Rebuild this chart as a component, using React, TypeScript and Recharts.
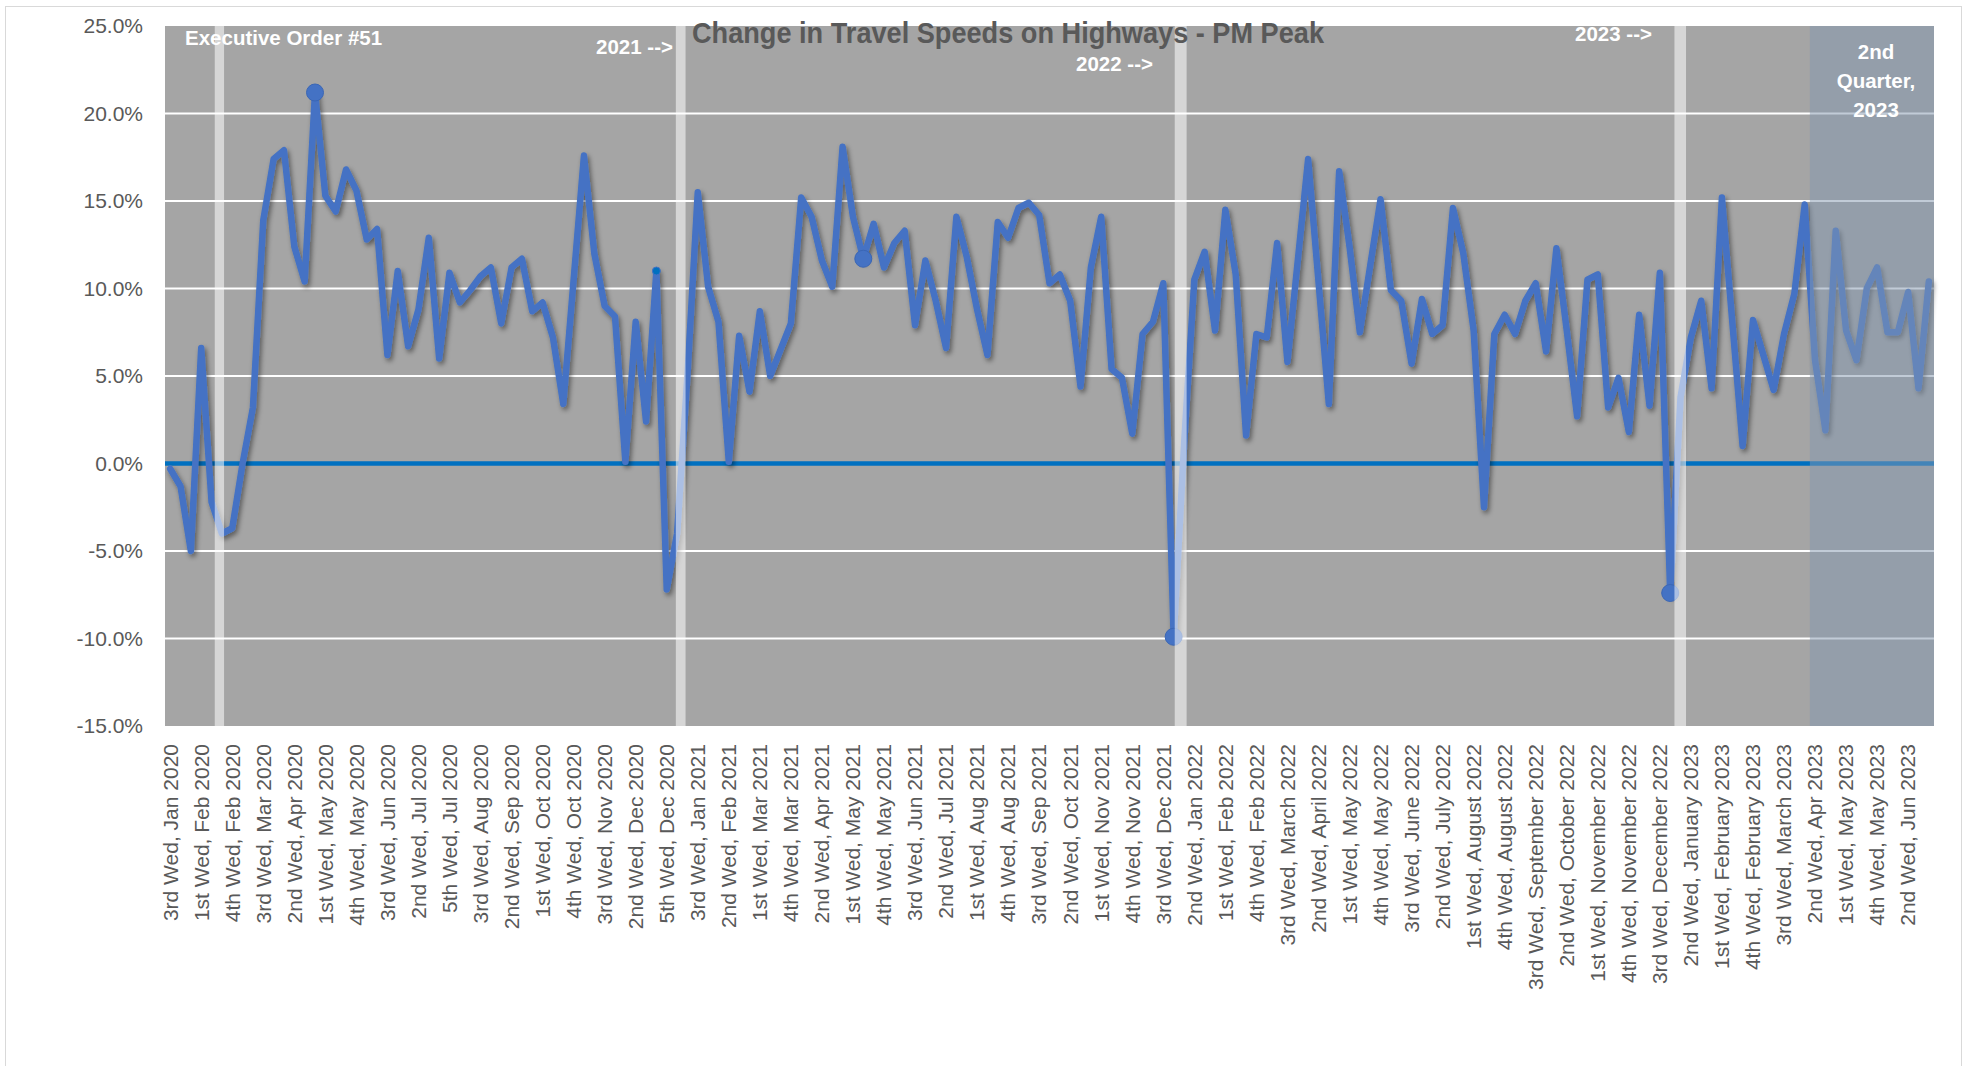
import React from "react";
import {
  LineChart,
  Line,
  XAxis,
  YAxis,
  CartesianGrid,
  ReferenceLine,
  ReferenceArea,
} from "recharts";

// every 3rd week gets a label on the axis
const WEEK_LABELS = [
  "3rd Wed, Jan 2020", "1st Wed, Feb 2020", "4th Wed, Feb 2020", "3rd Wed, Mar 2020",
  "2nd Wed, Apr 2020", "1st Wed, May 2020", "4th Wed, May 2020", "3rd Wed, Jun 2020",
  "2nd Wed, Jul 2020", "5th Wed, Jul 2020", "3rd Wed, Aug 2020", "2nd Wed, Sep 2020",
  "1st Wed, Oct 2020", "4th Wed, Oct 2020", "3rd Wed, Nov 2020", "2nd Wed, Dec 2020",
  "5th Wed, Dec 2020",
  "3rd Wed, Jan 2021", "2nd Wed, Feb 2021", "1st Wed, Mar 2021", "4th Wed, Mar 2021",
  "2nd Wed, Apr 2021", "1st Wed, May 2021", "4th Wed, May 2021", "3rd Wed, Jun 2021",
  "2nd Wed, Jul 2021", "1st Wed, Aug 2021", "4th Wed, Aug 2021", "3rd Wed, Sep 2021",
  "2nd Wed, Oct 2021", "1st Wed, Nov 2021", "4th Wed, Nov 2021", "3rd Wed, Dec 2021",
  "2nd Wed, Jan 2022", "1st Wed, Feb 2022", "4th Wed, Feb 2022", "3rd Wed, March 2022",
  "2nd Wed, April 2022", "1st Wed, May 2022", "4th Wed, May 2022", "3rd Wed, June 2022",
  "2nd Wed, July 2022", "1st Wed, August 2022", "4th Wed, August 2022",
  "3rd Wed, September 2022", "2nd Wed, October 2022", "1st Wed, November 2022",
  "4th Wed, November 2022", "3rd Wed, December 2022",
  "2nd Wed, January 2023", "1st Wed, February 2023", "4th Wed, February 2023",
  "3rd Wed, March 2023", "2nd Wed, Apr 2023", "1st Wed, May 2023", "4th Wed, May 2023",
  "2nd Wed, Jun 2023",
];

// weekly % change in PM peak speed
const SPEED_CHANGE = [
  -0.3, -1.3, -5.0, 6.6, -2.2, -4.0, -3.7, 0.0, 3.2, 13.9,
  17.4, 17.9, 12.4, 10.4, 21.2, 15.3, 14.4, 16.8, 15.6, 12.8,
  13.4, 6.2, 11.0, 6.7, 8.8, 12.9, 6.0, 10.9, 9.2, 9.9,
  10.7, 11.2, 8.0, 11.2, 11.7, 8.7, 9.2, 7.2, 3.4, 10.5,
  17.6, 12.0, 9.0, 8.4, 0.1, 8.1, 2.4, 11.0, -7.2, -4.0,
  5.0, 15.5, 10.1, 8.1, 0.1, 7.3, 4.1, 8.7, 5.0, 6.5,
  8.0, 15.2, 14.1, 11.6, 10.1, 18.1, 14.1, 11.7, 13.7, 11.2,
  12.6, 13.3, 7.9, 11.6, 9.3, 6.6, 14.1, 11.8, 8.8, 6.2,
  13.8, 12.9, 14.6, 14.9, 14.2, 10.3, 10.8, 9.3, 4.4, 11.2,
  14.1, 5.4, 4.9, 1.7, 7.4, 8.1, 10.3, -9.9, 1.0, 10.5,
  12.1, 7.6, 14.5, 10.8, 1.6, 7.4, 7.2, 12.6, 5.8, 11.6,
  17.4, 10.4, 3.4, 16.7, 12.4, 7.5, 11.3, 15.1, 9.9, 9.3,
  5.7, 9.4, 7.4, 7.9, 14.6, 12.0, 7.6, -2.5, 7.4, 8.5,
  7.4, 9.3, 10.3, 6.4, 12.3, 7.6, 2.7, 10.5, 10.8, 3.2,
  4.9, 1.8, 8.5, 3.3, 10.9, -7.4, 3.8, 7.2, 9.3, 4.3,
  15.2, 8.1, 1.0, 8.2, 6.2, 4.2, 7.4, 9.7, 14.8, 5.9,
  1.9, 13.3, 7.6, 5.9, 10.0, 11.2, 7.5, 7.5, 9.8, 4.3,
  10.4,
];

const Y_TICKS = [-15, -10, -5, 0, 5, 10, 15, 20, 25];
const BIG_MARKERS = [14, 67, 97, 145];
const SMALL_MARKERS = [47];

// light dividers (Executive Order, 2021, 2022, 2023) as [centre, width] in weeks
const DIVIDERS = [
  [4.76, 0.9],
  [49.35, 0.94],
  [97.68, 1.15],
  [145.97, 1.12],
];
const Q2_START = 158.5;

const FONT = "'Liberation Sans', Arial, sans-serif";
const W = 1963;
const H = 1066;

const rows = SPEED_CHANGE.map((v, i) => ({ i, v }));
const tickIdx = WEEK_LABELS.map((_, k) => k * 3);

function XTick({ x, y, payload }: any) {
  const label = WEEK_LABELS[Math.round(payload.value / 3)];
  return (
    <text
      x={x}
      y={y}
      transform={`rotate(-90 ${x} ${y})`}
      textAnchor="end"
      dy="0.35em"
      fontSize={21}
      fontFamily={FONT}
      fill="#595959"
    >
      {label}
    </text>
  );
}

function Dot(props: any) {
  const { cx, cy, index } = props;
  if (BIG_MARKERS.includes(index)) {
    return <circle key={index} cx={cx} cy={cy} r={8.5} fill="#4472C4" stroke="#3A66B5" strokeWidth={1} />;
  }
  if (SMALL_MARKERS.includes(index)) {
    return <circle key={index} cx={cx} cy={cy} r={4} fill="#0070C0" stroke="#4472C4" strokeWidth={1} />;
  }
  return <g key={index} />;
}

export default function App() {
  const white = { fill: "#FFFFFF", fontFamily: FONT, fontWeight: 700, fontSize: 20.5 };
  return (
    <div style={{ position: "absolute", left: 0, top: 0, width: W, height: H, background: "#fff" }}>
      <svg width={0} height={0} style={{ position: "absolute" }}>
        <defs>
          <filter id="lineShadow" x="-5%" y="-5%" width="110%" height="110%">
            <feDropShadow dx={2} dy={3} stdDeviation={2.5} floodColor="#000" floodOpacity={0.45} />
          </filter>
        </defs>
      </svg>
      <div
        style={{
          position: "absolute",
          left: 5,
          top: 6,
          width: 1955,
          height: 1075,
          border: "1px solid #D9D9D9",
        }}
      />
      <div style={{ position: "absolute", left: 0, top: 0 }}>
        <LineChart
          width={W}
          height={H}
          data={rows}
          margin={{ top: 26, right: 29, bottom: 40, left: 0 }}
        >
          <CartesianGrid
            vertical={false}
            stroke="#FFFFFF"
            strokeWidth={2}
            fill="#A5A5A5"
            fillOpacity={1}
            horizontalValues={[-10, -5, 0, 5, 10, 15, 20]}
          />
          <XAxis
            type="number"
            dataKey="i"
            domain={[-0.5, SPEED_CHANGE.length - 0.5]}
            ticks={tickIdx}
            interval={0}
            tick={<XTick />}
            tickLine={false}
            axisLine={false}
            tickSize={0}
            tickMargin={18}
            height={300}
          />
          <YAxis
            type="number"
            domain={[-15, 25]}
            ticks={Y_TICKS}
            interval={0}
            tickFormatter={(v: number) => `${v.toFixed(1)}%`}
            tick={{ fill: "#595959", fontSize: 21, fontFamily: FONT }}
            tickLine={false}
            axisLine={false}
            tickSize={0}
            tickMargin={22}
            width={165}
          />
          <ReferenceLine y={0} stroke="#0070C0" strokeWidth={4.5} />
          <Line
            dataKey="v"
            stroke="#4472C4"
            strokeWidth={6.5}
            strokeLinejoin="round"
            strokeLinecap="round"
            dot={Dot}
            activeDot={false}
            filter="url(#lineShadow)"
            isAnimationActive={false}
          />
          {DIVIDERS.map(([c, w], k) => (
            <ReferenceArea
              key={k}
              x1={c - w / 2}
              x2={c + w / 2}
              y1={-15}
              y2={25}
              fill="#FFFFFF"
              fillOpacity={0.55}
              stroke="none"
              zIndex={900}
            />
          ))}
          <ReferenceArea
            x1={Q2_START}
            x2={SPEED_CHANGE.length - 0.5}
            y1={-15}
            y2={25}
            fill="#8497B0"
            fillOpacity={0.5}
            stroke="none"
            zIndex={900}
          />
        </LineChart>
      </div>
      <svg
        width={W}
        height={H}
        style={{ position: "absolute", left: 0, top: 0, pointerEvents: "none" }}
      >
        <text
          x={1008}
          y={43}
          textAnchor="middle"
          fontFamily={FONT}
          fontWeight={700}
          fontSize={30}
          fill="#595959"
          textLength={632}
          lengthAdjust="spacingAndGlyphs"
        >
          Change in Travel Speeds on Highways - PM Peak
        </text>
        <text x={185} y={45} {...white}>Executive Order #51</text>
        <text x={596} y={54} {...white}>2021 --&gt;</text>
        <text x={1076} y={71} {...white}>2022 --&gt;</text>
        <text x={1575} y={41} {...white}>2023 --&gt;</text>
        <text x={1876} y={59} textAnchor="middle" {...white}>2nd</text>
        <text x={1876} y={88} textAnchor="middle" {...white}>Quarter,</text>
        <text x={1876} y={117} textAnchor="middle" {...white}>2023</text>
      </svg>
    </div>
  );
}
